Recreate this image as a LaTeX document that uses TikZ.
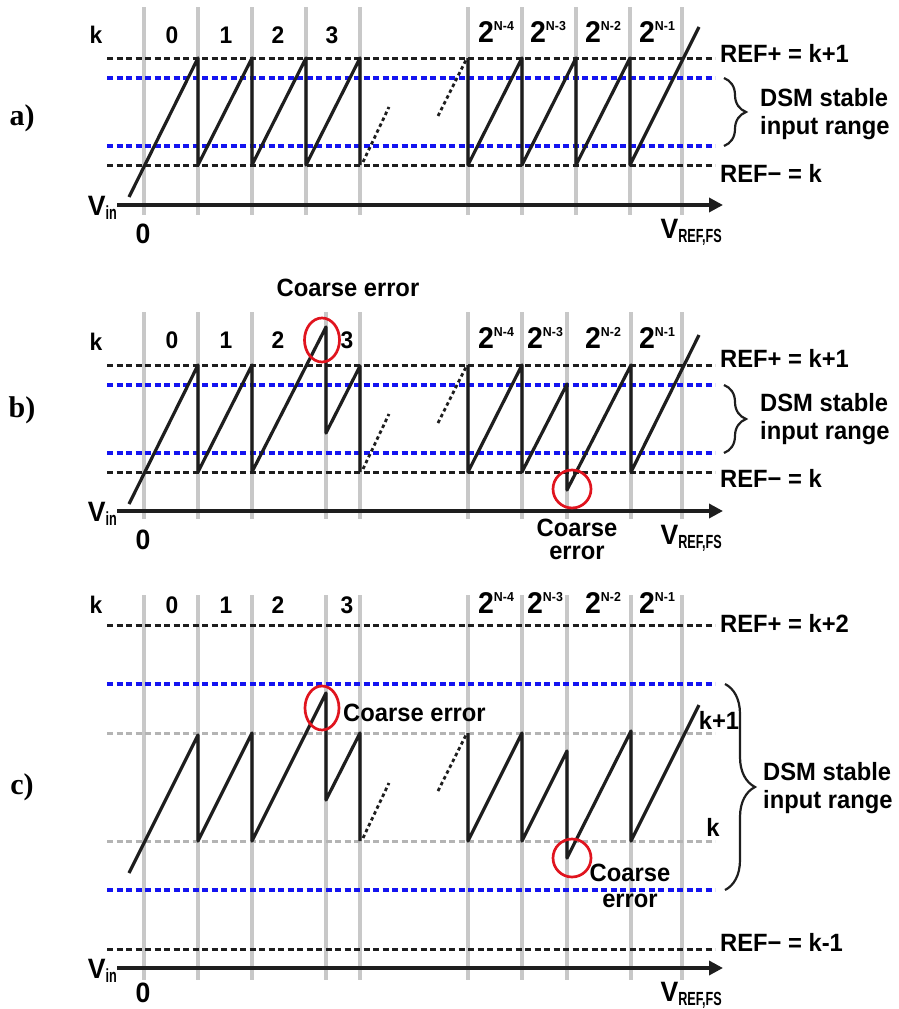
\documentclass[tikz,border=0pt]{standalone}
\usepackage{fontspec}
\setmainfont{Liberation Sans}[FakeStretch=0.95]
\newfontfamily\panelfont{Liberation Serif}
\usepackage{graphicx}
\usepackage{tikz}
\usetikzlibrary{arrows.meta,decorations.pathreplacing}
\definecolor{gridgray}{HTML}{C8C8C8}
\definecolor{refblack}{HTML}{1E1E1E}
\definecolor{rangeblue}{HTML}{1414F0}
\definecolor{lsbgray}{HTML}{B4B4B4}
\definecolor{errred}{HTML}{E0141E}
\newcommand{\pwr}[1]{{\fontsize{30}{30}\selectfont 2}\raisebox{12pt}{\fontsize{13}{13}\selectfont N-#1}}
\newcommand{\subtx}[1]{\raisebox{-4pt}{\scalebox{0.7}[1]{\fontsize{19}{19}\selectfont #1}}}
\tikzset{
  grid line/.style={draw=gridgray,line width=3.2pt},
  ref line/.style={draw=refblack,line width=3pt,dash pattern=on 6pt off 3.5pt},
  range line/.style={ref line,draw=rangeblue,line width=3.3pt},
  lsb line/.style={ref line,draw=lsbgray},
  saw/.style={draw=refblack,line width=3.2pt,line join=round},
  gap/.style={draw=refblack,line width=2.8pt,dash pattern=on 3.5pt off 3pt},
  axis/.style={draw=refblack,line width=3.4pt,-{Triangle[length=14pt,width=14pt]}},
  err/.style={draw=errred,line width=2.7pt},
  txt/.style={font=\bfseries\fontsize{25}{28}\selectfont,inner sep=0pt,align=left},
  code/.style={font=\bfseries\fontsize{24}{24}\selectfont,inner sep=0pt},
  axlbl/.style={font=\bfseries\fontsize{28}{28}\selectfont,inner sep=0pt},
  tag/.style={font=\panelfont\bfseries\fontsize{30}{30}\selectfont,inner sep=0pt},
  range brace/.style={draw=refblack,line width=2.2pt,decorate,decoration={brace,amplitude=#1}},
  range brace/.default=22pt
}

\begin{document}
\begin{tikzpicture}[x=1pt,y=-1pt]
  \useasboundingbox (0,0) rectangle (898,1009);

  % ---------- a) ----------
  \foreach \x in {144,198,252,306,360,468,522,576,630,682}
    \draw[grid line] (\x,7) -- (\x,215);
  \draw[ref line] (107,58) -- (715,58);
  \draw[range line] (107,78) -- (715,78);
  \draw[range line] (107,146) -- (715,146);
  \draw[ref line] (107,165) -- (715,165);
  \draw[saw] (129,197) -- (198,58) -- (198,165) -- (252,58) -- (252,165)
    -- (306,58) -- (306,165) -- (360,58) -- (360,165);
  \draw[gap] (363,162) -- (389,107);
  \draw[gap] (438,116) -- (466,60);
  \draw[saw] (468,58) -- (468,165) -- (522,58) -- (522,165) -- (576,58)
    -- (576,165) -- (630,58) -- (630,165) -- (699,27);
  \draw[axis] (117,205) -- (723,205);
  \draw[range brace] (724,78) -- (724,146);

  \node[code] (ka) at (96,35) {k};
  \node[code] (ca0) at (172,35) {0};
  \node[code] (ca1) at (226,35) {1};
  \node[code] (ca2) at (278,35) {2};
  \node[code] (ca3) at (332,35) {3};
  \node[code] (ca4) at (496,32) {\pwr{4}};
  \node[code] (ca5) at (548,32) {\pwr{3}};
  \node[code] (ca6) at (603,32) {\pwr{2}};
  \node[code] (ca7) at (657,32) {\pwr{1}};
  \node[txt,anchor=west] (refpa) at (720,53) {REF+ = k+1};
  \node[txt,anchor=west] (refma) at (720,173) {REF− = k};
  \node[txt,anchor=west] (dsma) at (760,114) {DSM stable\\input range};
  \node[axlbl,anchor=base east] (vina) at (117,215) {V\subtx{in}};
  \node[axlbl] (zeroa) at (143,234) {0};
  \node[axlbl,anchor=base east] (vfsa) at (722,238) {V\subtx{REF,FS}};
  \node[tag] (taga) at (22,118) {a)};

  % ---------- b) ----------
  \begin{scope}[shift={(0,307)}]
    \foreach \x in {144,198,252,326,360,468,522,567,631,682}
      \draw[grid line] (\x,5) -- (\x,212);
    \draw[ref line] (107,58) -- (715,58);
    \draw[range line] (107,78) -- (715,78);
    \draw[range line] (107,146) -- (715,146);
    \draw[ref line] (107,165) -- (715,165);
    \draw[saw] (129,197) -- (198,58) -- (198,165) -- (252,58) -- (252,165)
      -- (326,20) -- (326,126) -- (360,59) -- (360,165);
    \draw[gap] (363,162) -- (389,107);
    \draw[gap] (438,116) -- (466,60);
    \draw[saw] (468,58) -- (468,165) -- (522,58) -- (522,165) -- (567,77)
      -- (567,183) -- (631,58) -- (631,165) -- (699,28);
    \draw[axis] (117,204) -- (723,204);
    \draw[range brace] (724,78) -- (724,146);
    \draw[err] (322,33) ellipse [x radius=17.5pt,y radius=22pt];
    \draw[err] (572,182) circle [radius=19pt];

    \node[code] (kb) at (96,35) {k};
    \node[code] (cb0) at (172,33) {0};
    \node[code] (cb1) at (226,33) {1};
    \node[code] (cb2) at (278,33) {2};
    \node[code] (cb3) at (347,33) {3};
    \node[code] (cb4) at (496,31) {\pwr{4}};
    \node[code] (cb5) at (545,31) {\pwr{3}};
    \node[code] (cb6) at (603,31) {\pwr{2}};
    \node[code] (cb7) at (657,31) {\pwr{1}};
    \node[txt] (ceb1) at (348,-19) {Coarse error};
    \node[txt,align=center,font=\bfseries\fontsize{25}{23}\selectfont] (ceb2) at (577,232) {Coarse\\error};
    \node[txt,anchor=west] (refpb) at (720,51) {REF+ = k+1};
    \node[txt,anchor=west] (refmb) at (720,171) {REF− = k};
    \node[txt,anchor=west] (dsmb) at (760,112) {DSM stable\\input range};
    \node[axlbl,anchor=base east] (vinb) at (117,214) {V\subtx{in}};
    \node[axlbl] (zerob) at (143,233) {0};
    \node[axlbl,anchor=base east] (vfsb) at (722,237) {V\subtx{REF,FS}};
  \end{scope}
  \node[tag] (tagb) at (22,410) {b)};

  % ---------- c) ----------
  \foreach \x in {144,198,252,326,360,468,522,567,631,682}
    \draw[grid line] (\x,595) -- (\x,980);
  \draw[ref line] (107,625) -- (715,625);
  \draw[range line] (107,684) -- (715,684);
  \draw[lsb line] (107,733) -- (715,733);
  \draw[lsb line] (107,841) -- (715,841);
  \draw[range line] (107,890) -- (715,890);
  \draw[ref line] (107,949) -- (715,949);
  \draw[saw] (129,873) -- (198,735) -- (198,841) -- (252,733) -- (252,841)
    -- (326,693) -- (326,800) -- (360,733) -- (360,841);
  \draw[gap] (363,838) -- (389,783);
  \draw[gap] (438,791) -- (466,735);
  \draw[saw] (468,733) -- (468,841) -- (522,733) -- (522,841) -- (567,751)
    -- (567,858) -- (631,731) -- (631,841) -- (699,705);
  \draw[axis] (117,968) -- (723,968);
  \draw[range brace=30pt] (725,684) -- (725,890);
  \draw[err] (322,708) ellipse [x radius=17pt,y radius=22pt];
  \draw[err] (572,858) circle [radius=19pt];

  \node[code] (kc) at (96,605) {k};
  \node[code] (cc0) at (172,605) {0};
  \node[code] (cc1) at (226,605) {1};
  \node[code] (cc2) at (278,605) {2};
  \node[code] (cc3) at (347,605) {3};
  \node[code] (cc4) at (496,603) {\pwr{4}};
  \node[code] (cc5) at (545,603) {\pwr{3}};
  \node[code] (cc6) at (603,603) {\pwr{2}};
  \node[code] (cc7) at (657,603) {\pwr{1}};
  \node[txt,anchor=west] (cec1) at (343,713) {Coarse error};
  \node[txt,align=center,font=\bfseries\fontsize{25}{26}\selectfont] (cec2) at (630,886) {Coarse\\error};
  \node[txt] (kpc) at (719,720) {k+1};
  \node[txt] (kkc) at (713,827) {k};
  \node[txt,anchor=west] (refpc) at (720,623) {REF+ = k+2};
  \node[txt,anchor=west] (refmc) at (720,942) {REF− = k-1};
  \node[txt,anchor=west] (dsmc) at (763,788) {DSM stable\\input range};
  \node[axlbl,anchor=base east] (vinc) at (117,978) {V\subtx{in}};
  \node[axlbl] (zeroc) at (143,993) {0};
  \node[axlbl,anchor=base east] (vfsc) at (722,1001) {V\subtx{REF,FS}};
  \node[tag] (tagc) at (22,787) {c)};
\end{tikzpicture}
\end{document}
